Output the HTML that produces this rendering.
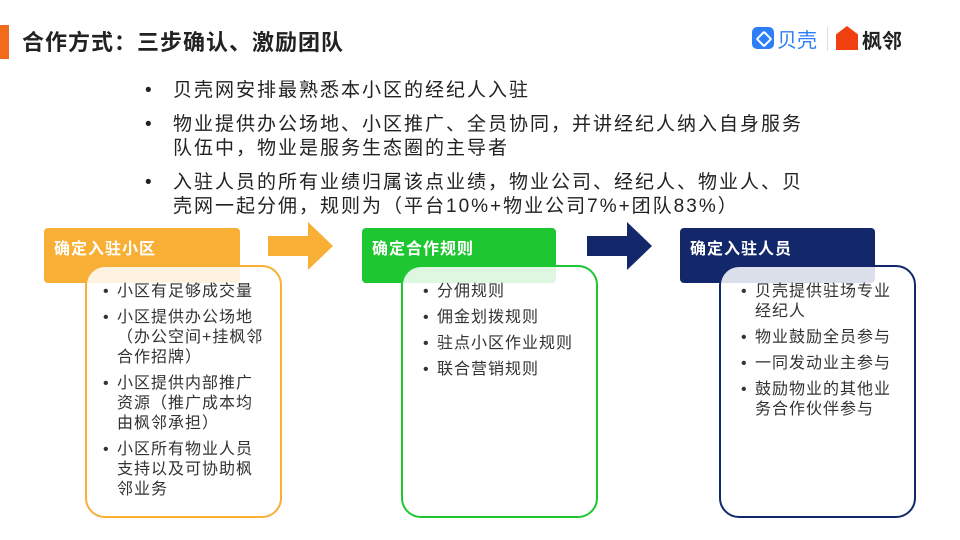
<!DOCTYPE html>
<html><head><meta charset="utf-8"><style>
body{margin:0;width:960px;height:540px;background:#fff;position:relative;overflow:hidden;font-family:"Liberation Sans","Noto Sans CJK SC",sans-serif;color:#333}
.abs{position:absolute}
.title{left:22px;top:25px;font-size:22px;font-weight:bold;color:#222;letter-spacing:1px}
.bar{left:0;top:25px;width:9px;height:34px;background:#f26b1d}
.top{left:145px;top:79px;width:675px;font-size:19px;letter-spacing:2px;line-height:24px;color:#222}
.top div{position:relative;padding-left:28px;margin-bottom:10px}
.top div:before{content:"•";position:absolute;left:0}
.hd{height:55px;border-radius:4px;color:#fff;font-weight:bold;font-size:16px;letter-spacing:1px;box-sizing:border-box;padding:7px 10px}
.bx{width:197px;height:253px;border-radius:20px;border:2.5px solid;box-sizing:border-box;background:rgba(255,255,255,.85);padding:15px 16px 0 30px;font-size:16px;letter-spacing:1px;line-height:20px;color:#333}
.bx div{position:relative;margin-bottom:6px}
.bx div:before{content:"•";position:absolute;left:-14px}
</style></head><body>
<div class="abs bar"></div>
<div class="abs title">合作方式：三步确认、激励团队</div>
<div class="abs" style="left:752px;top:27px;width:22px;height:22px;border-radius:5px;background:#2d7ff9"></div>
<div class="abs" style="left:758px;top:33px;width:8px;height:8px;border:2px solid #fff;border-radius:2px;transform:rotate(45deg)"></div>
<div class="abs" style="left:777px;top:24px;font-size:20px;color:#2d7ff9">贝壳</div>
<div class="abs" style="left:827px;top:27px;width:1px;height:24px;background:#ddd"></div>
<div class="abs" style="left:836px;top:26px;width:22px;height:24px;background:#f0400f;clip-path:polygon(50% 0,100% 35%,100% 100%,0 100%,0 35%)"></div>
<div class="abs" style="left:862px;top:25px;font-size:20px;color:#222;font-weight:bold">枫邻</div>
<div class="abs top">
<div>贝壳网安排最熟悉本小区的经纪人入驻</div>
<div>物业提供办公场地、小区推广、全员协同，并讲经纪人纳入自身服务队伍中，物业是服务生态圈的主导者</div>
<div>入驻人员的所有业绩归属该点业绩，物业公司、经纪人、物业人、贝壳网一起分佣，规则为（平台10%+物业公司7%+团队83%）</div>
</div>
<div class="abs hd" style="left:44px;top:228px;width:196px;background:#f8af35">确定入驻小区</div>
<div class="abs hd" style="left:362px;top:228px;width:194px;background:#1ec731">确定合作规则</div>
<div class="abs hd" style="left:680px;top:228px;width:195px;background:#13286b">确定入驻人员</div>
<svg class="abs" style="left:0;top:0" width="960" height="540">
<polygon points="268,236 308,236 308,222 333,246 308,270 308,256 268,256" fill="#f8af35"/>
<polygon points="587,236 627,236 627,222 652,246 627,270 627,256 587,256" fill="#13286b"/>
</svg>
<div class="abs bx" style="left:85px;top:265px;border-color:#f8af35">
<div>小区有足够成交量</div><div>小区提供办公场地（办公空间+挂枫邻合作招牌）</div><div>小区提供内部推广资源（推广成本均由枫邻承担）</div><div>小区所有物业人员支持以及可协助枫邻业务</div></div>
<div class="abs bx" style="left:401px;top:265px;border-color:#1ec731;padding-left:34px">
<div>分佣规则</div><div>佣金划拨规则</div><div>驻点小区作业规则</div><div>联合营销规则</div></div>
<div class="abs bx" style="left:719px;top:265px;border-color:#13286b;padding-left:34px">
<div>贝壳提供驻场专业经纪人</div><div>物业鼓励全员参与</div><div>一同发动业主参与</div><div>鼓励物业的其他业务合作伙伴参与</div></div>
</body></html>
